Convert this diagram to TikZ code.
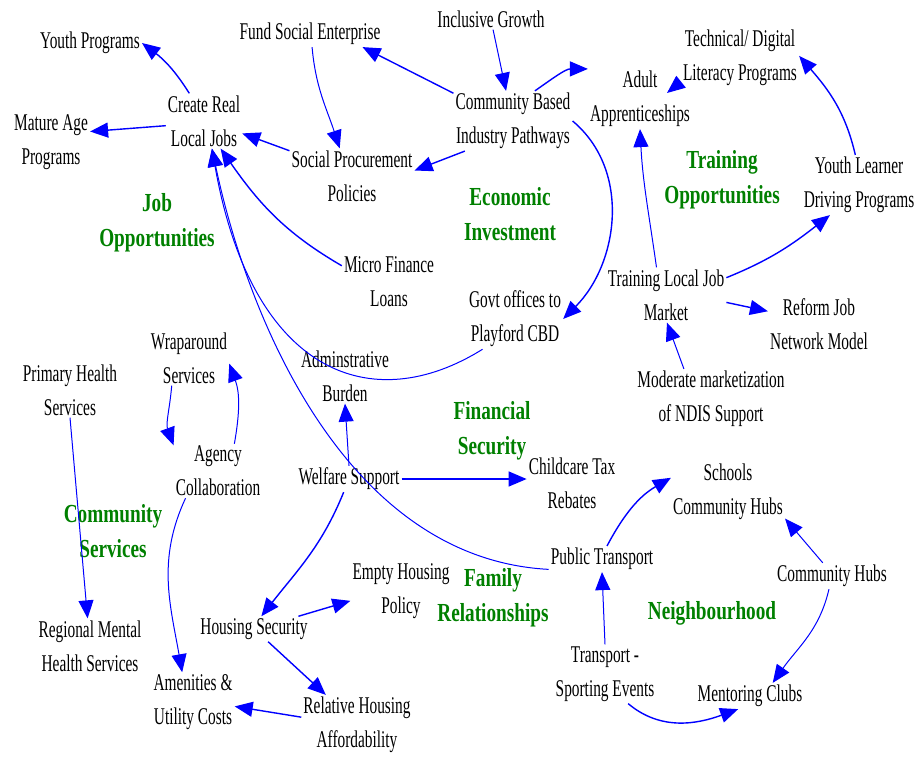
\documentclass[tikz,border=0pt]{standalone}
\usepackage{fontspec}
\usetikzlibrary{arrows.meta,calc}
\newfontfamily\lbfam{Liberation Serif}[FakeStretch=0.64]
\newfontfamily\grfam{Liberation Serif}[FakeStretch=0.74]
\newcommand\lbfont{\lbfam\fontsize{24}{34}\selectfont}
\newcommand\grfont{\grfam\bfseries\fontsize{26}{35}\selectfont}
\definecolor{linkblue}{RGB}{0,0,255}
\definecolor{labgreen}{RGB}{0,128,0}
\tikzset{
  lbl/.style={font=\lbfont, align=center, inner sep=2pt},
  grp/.style={font=\grfont, text=labgreen, align=center, inner sep=0pt},
  conn/.style={draw=linkblue, line width=1.4pt, -{Triangle[length=18pt,width=15pt]}},
  thinconn/.style={conn, line width=1pt},
}
\begin{document}
\begin{tikzpicture}[x=1pt,y=1pt]
\useasboundingbox (0,0) rectangle (917,756);

% factor nodes
\node[lbl] (yp)   at (90,713)  {Youth Programs};
\node[lbl] (fse)  at (310,722) {Fund Social Enterprise};
\node[lbl] (ig)   at (491,737) {Inclusive Growth};
\node[lbl] (tdl)  at (740,698) {Technical/ Digital\\Literacy Programs};
\node[lbl] (crl)  at (204,635) {Create Real\\Local Jobs};
\node[lbl] (map)  at (51,614)  {Mature Age\\Programs};
\node[lbl] (cbi)  at (513,635) {Community Based\\Industry Pathways};
\node[lbl] (aa)   at (640,657) {Adult\\Apprenticeships};
\node[lbl] (spp)  at (352,580) {Social Procurement\\Policies};
\node[lbl] (yld)  at (859,571) {Youth Learner\\Driving Programs};
\node[lbl] (mfl)  at (389,474) {Micro Finance\\Loans};
\node[lbl] (tlj)  at (666,461) {Training Local Job\\Market};
\node[lbl] (gov)  at (515,437) {Govt offices to\\Playford CBD};
\node[lbl] (rjn)  at (819,432) {Reform Job\\Network Model};
\node[lbl] (wrap) at (189,398) {Wraparound\\Services};
\node[lbl] (phs)  at (70,366)  {Primary Health\\Services};
\node[lbl] (adm)  at (345,380) {Adminstrative\\Burden};
\node[lbl] (mod)  at (711,357) {Moderate marketization\\of NDIS Support};
\node[lbl] (agc)  at (218,285) {Agency\\Collaboration};
\node[lbl] (ws)   at (349,277) {Welfare Support};
\node[lbl] (ctr)  at (572,273) {Childcare Tax\\Rebates};
\node[lbl] (sch)  at (728,264) {Schools\\Community Hubs};
\node[lbl] (pt)   at (602,197) {Public Transport};
\node[lbl] (ch)   at (832,180) {Community Hubs};
\node[lbl] (ehp)  at (401,165) {Empty Housing\\Policy};
\node[lbl] (hs)   at (254,127) {Housing Security};
\node[lbl] (rmh)  at (90,110)  {Regional Mental\\Health Services};
\node[lbl] (tse)  at (605,82)  {Transport -\\Sporting Events};
\node[lbl] (mc)   at (750,60)  {Mentoring Clubs};
\node[lbl] (auc)  at (193,54)  {Amenities \&\\Utility Costs};
\node[lbl] (rha)  at (357,31)  {Relative Housing\\Affordability};

% group headings
\node[grp] (gjob)  at (157,533) {Job\\Opportunities};
\node[grp] (geco)  at (510,542) {Economic\\Investment};
\node[grp] (gtrn)  at (722,576) {Training\\Opportunities};
\node[grp] (gfin)  at (492,325) {Financial\\Security};
\node[grp] (gcom)  at (113,225) {Community\\Services};
\node[grp] (gfam)  at (493,158) {Family\\Relationships};
\node[grp] (gnbh)  at (712,143) {Neighbourhood};

% job opportunities links
\draw[conn] (crl.118) to[out=122,in=-37] (yp.east);
\draw[conn] (crl.187) -- (map.15);
\draw[conn] (spp.158) -- (crl.-18);
\draw[thinconn] (fse.-81) to[out=-85,in=108] (spp.114);
\draw[conn] (mfl.161) to[out=150,in=-55] (crl.-59);

% economic investment links
\draw[conn] (cbi.155) -- (fse.-14);
\draw[conn] (cbi.212) -- (spp.5);
\draw[thinconn] (ig.-79) -- (cbi.103);
\draw[conn] (cbi.54) to[out=35,in=180] (aa.150);
\draw[conn] (cbi.east) to[out=-40,in=45] (gov.east);
\draw[thinconn] (gov.223) to[out=-148,in=-80,out distance=130pt,in distance=230pt] (crl.-74);

% training links
\draw[thinconn] (tdl.202) -- ($(aa)+(27,6)$);
\draw[conn] (yld.97) to[out=103,in=-49] (tdl.2);
\draw[conn] (tlj.16) to[out=22,in=-142] (yld.226);
\draw[thinconn] (tlj.109) to[out=98,in=-87] (aa.south);
\draw[conn] (tlj.-7) -- (rjn.166);
\draw[thinconn] (mod.132) -- (tlj.-88);

% financial security and housing links
\draw[thinconn] (ws.north) -- (adm.south);
\draw[conn] (ws.east) -- (ws.east -| ctr.west);
\draw[conn] (ws.-112) to[out=-112,in=52] (hs.60);
\draw[conn] (hs.16) -- (ehp.191);
\draw[conn] (hs.-42) -- (rha.136);
\draw[conn] (rha.172) -- (auc.-6);

% community services links
\draw[thinconn] (agc.220) to[out=-115,in=100] (auc.110);
\draw[thinconn] (agc.59) to[out=80,in=-70] (wrap.-8);
\draw[thinconn] (wrap.238) to[out=-95,in=110] (agc.150);
\draw[thinconn] (phs.south) -- (rmh.95);

% neighbourhood links
\draw[thinconn] (pt.191) to[out=177,in=-78,out distance=200pt,in distance=180pt] (crl.-74);
\draw[conn] (pt.69) to[out=62,in=-150] (sch.166);
\draw[thinconn] (tse.north) -- (pt.south);
\draw[conn] (tse.-52) to[out=-40,in=-160] (mc.228);
\draw[thinconn] (ch.125) -- (sch.-25);
\draw[thinconn] (ch.257) to[out=-103,in=55] (mc.30);
\end{tikzpicture}
\end{document}
